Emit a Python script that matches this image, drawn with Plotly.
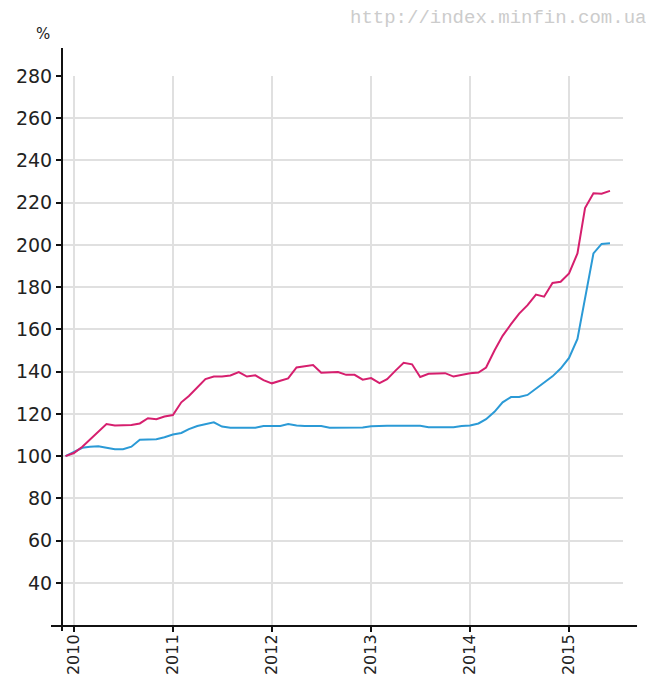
import pandas as pd
import plotly.graph_objects as go

# monthly dates, Dec 2009 .. Jun 2015
dates = pd.date_range("2009-12-01", "2015-06-01", freq="MS").strftime("%Y-%m-%d").tolist()

red_values = [
    100, 101.5, 104.5, 108, 111.5, 115.2, 114.5, 114.5, 114.8, 115.5,
    118, 117.5, 118.8, 119.5, 125.5, 128.5, 132.5, 136.5, 137.7, 137.7,
    138.2, 139.8, 137.7, 138.3, 136, 134.5, 135.7, 136.8, 142, 142.5,
    143.2, 139.5, 139.8, 139.8, 138.5, 138.5, 136.2, 137, 134.6, 136.5,
    140.5, 144.2, 143.5, 137.5, 139, 139.3, 139.3, 137.7, 138.5, 139.3,
    139.6, 142, 150, 157, 162.5, 167.5, 171.5, 176.5, 175.5, 182,
    182.6, 186.5, 196, 217.5, 224.5, 224.3, 225.6,
]

blue_values = [
    100, 102.2, 104, 104.5, 104.7, 104, 103.3, 103.3, 104.5, 107.8,
    108, 108, 109, 110.3, 111, 112.8, 114.3, 115, 116, 114,
    113.5, 113.5, 113.5, 113.5, 114.3, 114.3, 114.3, 115.2, 114.5, 114.3,
    114.3, 114.3, 113.5, 113.5, 113.5, 113.5, 113.6, 114.2, 114.4, 114.4,
    114.4, 114.4, 114.4, 114.4, 113.7, 113.7, 113.7, 113.7, 114.3, 114.5,
    115.5, 117.5, 121, 125.5, 128, 128, 129, 132, 135, 137.8,
    141.5, 146.5, 155.5, 175, 196, 200.5, 200.8,
]

year_ticks = ["2010-01-01", "2011-01-01", "2012-01-01", "2013-01-01", "2014-01-01", "2015-01-01"]
year_labels = ["2010", "2011", "2012", "2013", "2014", "2015"]
y_ticks = [40, 60, 80, 100, 120, 140, 160, 180, 200, 220, 240, 260, 280]

RED = "#d61f6e"
BLUE = "#2b9ad6"
FONT = "DejaVu Sans"
TXT = "#222222"

fig = go.Figure()
fig.add_trace(go.Scatter(x=dates, y=blue_values, mode="lines",
                         line=dict(color=BLUE, width=2), showlegend=False))
fig.add_trace(go.Scatter(x=dates, y=red_values, mode="lines",
                         line=dict(color=RED, width=2), showlegend=False))

fig.update_layout(
    width=646, height=669,
    margin=dict(l=54, r=31, t=68, b=51),
    paper_bgcolor="white", plot_bgcolor="white",
    font=dict(family=FONT, size=18, color=TXT),
    xaxis=dict(
        type="date",
        range=["2009-11-18", "2015-07-19"],
        tickvals=year_ticks, ticktext=year_labels,
        tickangle=-90,
        ticks="outside", ticklen=5, tickwidth=1.5, tickcolor="#111111",
        showgrid=True, gridcolor="#e0e0e0", gridwidth=2,
        showline=False, zeroline=False,
        automargin=False,
        ticklabelstandoff=-4,
        tickfont=dict(family=FONT, size=16, color=TXT),
    ),
    yaxis=dict(
        range=[19.6, 280],
        tickvals=y_ticks,
        ticks="outside", ticklen=5, tickwidth=1.5, tickcolor="#111111",
        showgrid=True, gridcolor="#e0e0e0", gridwidth=2,
        showline=False, zeroline=False,
        automargin=False,
        tickfont=dict(family=FONT, size=19, color=TXT),
    ),
    shapes=[
        dict(type="line", xref="paper", yref="paper",
             x0=0, x1=0, y0=-0.009, y1=1.051,
             line=dict(color="#111111", width=2), layer="above"),
        dict(type="line", xref="paper", yref="paper",
             x0=-0.0196, x1=1.025, y0=0, y1=0,
             line=dict(color="#111111", width=2), layer="above"),
    ],
    annotations=[
        dict(text="%", xref="paper", yref="paper", x=-0.033, y=1.0755,
             xanchor="center", yanchor="middle", showarrow=False,
             font=dict(family=FONT, size=15, color=TXT)),
        dict(text="http://index.minfin.com.ua", xref="paper", yref="paper",
             x=1.044, y=1.1055, xanchor="right", yanchor="middle", showarrow=False,
             font=dict(family="Liberation Mono", size=19, color="#cccccc")),
    ],
)

fig.write_html("out.html")
